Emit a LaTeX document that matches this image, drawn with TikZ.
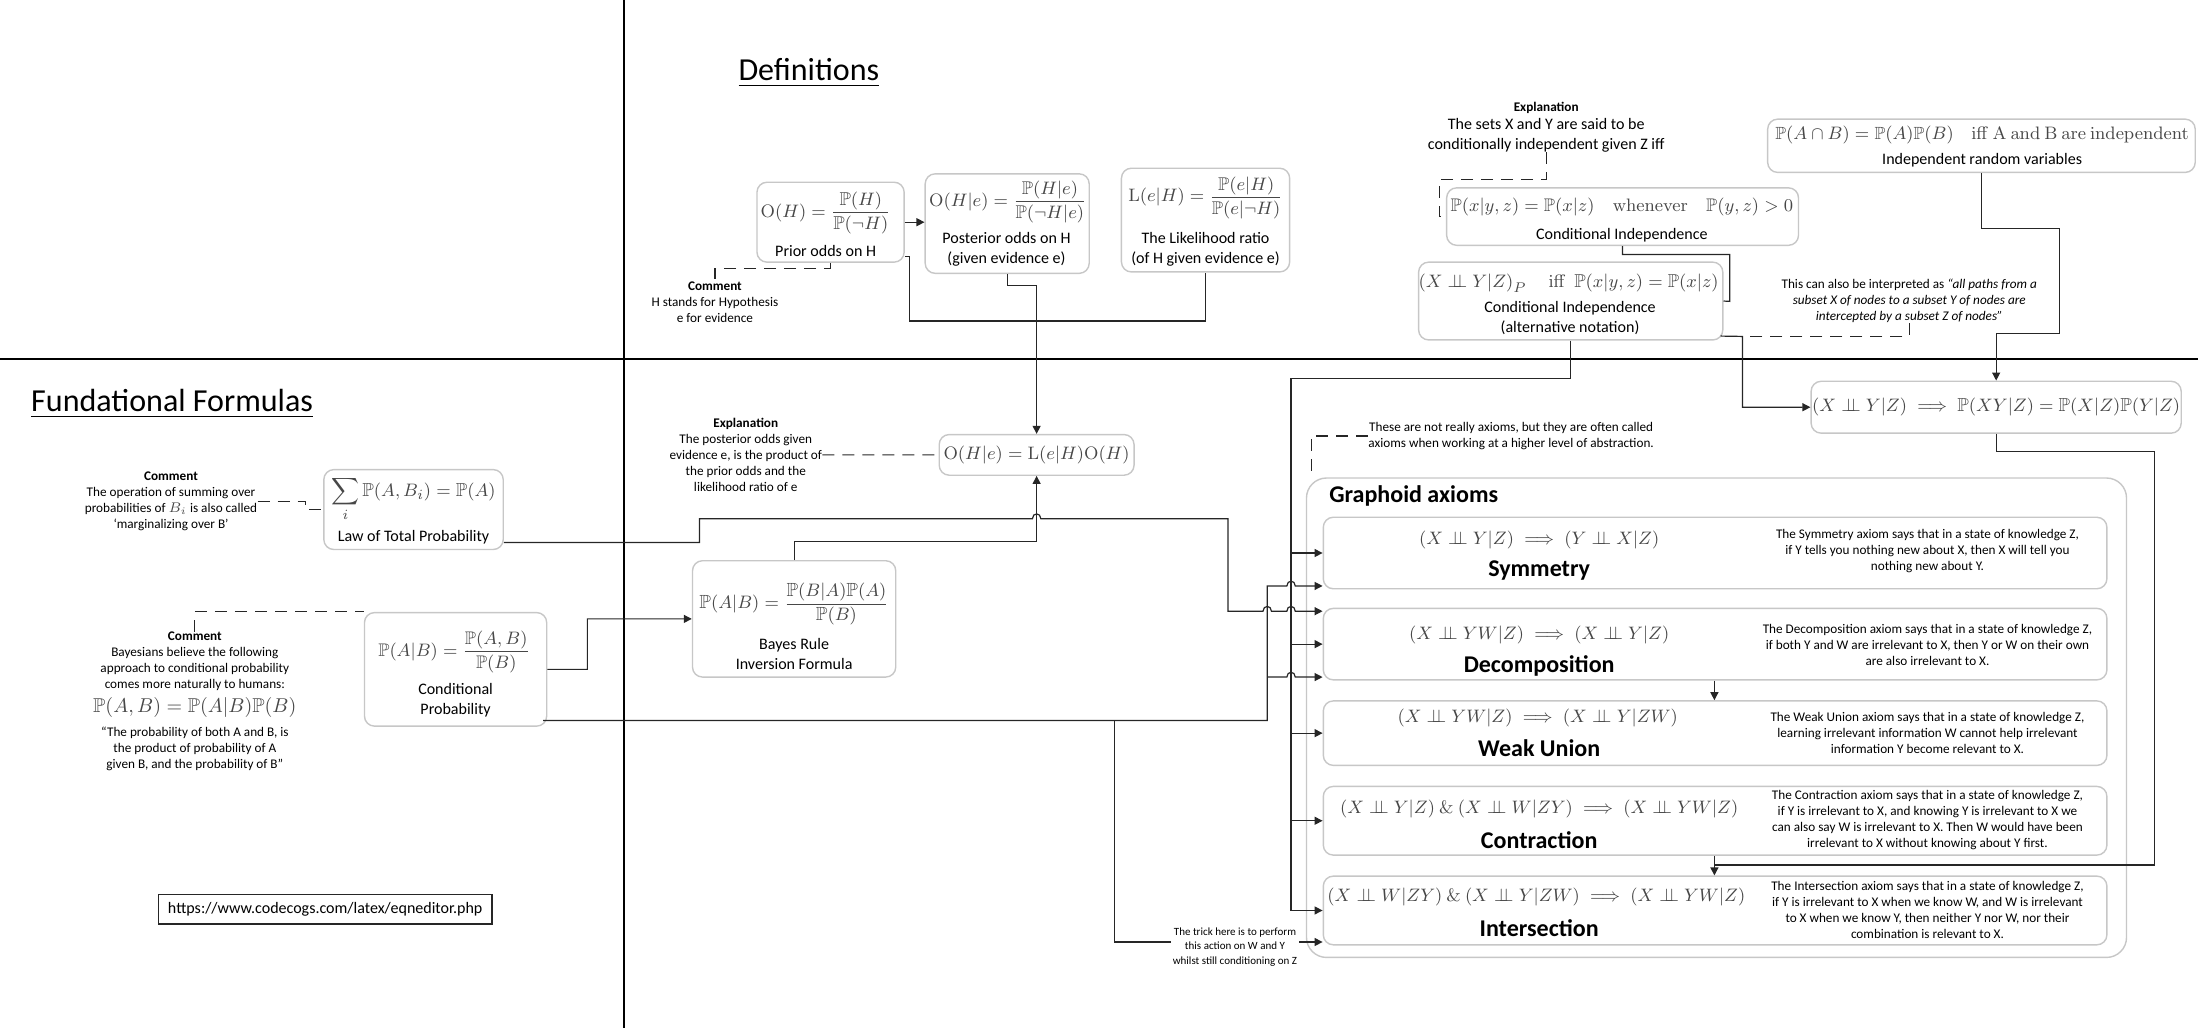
\documentclass[tikz,border=0pt]{standalone}
\usepackage{amsmath,amssymb}
\usepackage[no-math]{fontspec}
\setmainfont{Carlito}
\usetikzlibrary{arrows.meta,fit,calc}
\newcommand{\Pb}{\mathbb{P}}
\newcommand{\cindep}{\mathrel{\perp\!\!\!\perp}}
\newcommand{\hop}[2]{-- ({#1-3},#2) .. controls ({#1-3},{#2-4.5}) and ({#1+3},{#2-4.5}) .. ({#1+3},#2)}
\begin{document}
\begin{tikzpicture}[x=0.7pt,y=-0.7pt,
  bx/.style={draw=black!22, line width=0.7pt, rounded corners=5pt, inner sep=0pt, fill=white},
  gbx/.style={bx, rounded corners=10pt},
  ln/.style={draw=black!85, line width=0.6pt},
  arr/.style={ln, -{Triangle[length=4pt,width=4pt]}},
  dsh/.style={ln, dash pattern=on 6pt off 4pt},
  dvd/.style={draw=black, line width=0.8pt},
  fml/.style={text=black!72, inner sep=0pt, font=\fontsize{#1}{12}\selectfont},
  fml/.default=10,
  lbl/.style={align=center, inner sep=0pt, font=\fontsize{8}{9.7}\selectfont},
  cmt/.style={align=center, inner sep=0pt, font=\fontsize{6.6}{8}\selectfont},
  axn/.style={inner sep=0pt, font=\fontsize{12}{14}\selectfont\bfseries},
  ttl/.style={inner sep=0pt, font=\fontsize{16}{19}\selectfont}]
\useasboundingbox (0,0) rectangle (1568,733);

% dividers
\draw[dvd] (445,0) -- (445,733);
\draw[dvd] (0,256) -- (1568,256);

% titles
\node[ttl] (tdef) at (577,52) {\underline{Definitions}};
\node[ttl, anchor=west] (tfund) at (22,288) {\underline{Fundational Formulas}};

% ---------- Definitions ----------
\node[bx, fit={(540,130) (645,187)}] (prior) {};
\node[fml=9.3] (priorf) at (589,152) {$\mathrm{O}(H) = \dfrac{\Pb(H)}{\Pb(\neg H)}$};
\node[lbl] (priorl) at (589,179) {Prior odds on H};

\node[bx, fit={(660,124) (777,195)}] (post) {};
\node[fml=9.2] (postf) at (719,144) {$\mathrm{O}(H|e) = \dfrac{\Pb(H|e)}{\Pb(\neg H|e)}$};
\node[lbl] (postl) at (718,178) {Posterior odds on H\\(given evidence e)};

\node[bx, fit={(800,120) (920,194)}] (lik) {};
\node[fml=9.2] (likf) at (860,141) {$\mathrm{L}(e|H) = \dfrac{\Pb(e|H)}{\Pb(e|\neg H)}$};
\node[lbl] (likl) at (860,178) {The Likelihood ratio\\(of H given evidence e)};

\node[cmt] (pcm) at (510,215.5) {\textbf{Comment}\\H stands for Hypothesis\\e for evidence};

\node[bx, fit={(670,310) (809,339)}] (ohe) {};
\node[fml=9.3] (ohef) at (739.5,324.5) {$\mathrm{O}(H|e) = \mathrm{L}(e|H)\mathrm{O}(H)$};
\node[cmt] (ohecm) at (532,324.5) {\textbf{Explanation}\\The posterior odds given\\evidence e, is the product of\\the prior odds and the\\likelihood ratio of e};

\node[cmt] (ciexpa) at (1103,77) {\textbf{Explanation}};
\node[align=center, inner sep=0pt, font=\fontsize{8}{10}\selectfont] (ciexpb) at (1103,96.3) {The sets X and Y are said to be\\conditionally independent given Z iff};

\node[bx, fit={(1032,134) (1283,175)}] (pci) {};
\node[fml=9.1] (pcif) at (1157,148) {$\Pb(x|y,z) = \Pb(x|z) \quad \mathrm{whenever} \quad \Pb(y,z) > 0$};
\node[lbl] (pcil) at (1157,168) {Conditional Independence};

\node[bx, fit={(1012,187) (1229,242.5)}] (alt) {};
\node[fml=9.3] (altf) at (1119,202) {$\left(X \cindep Y|Z\right)_P \quad \mathrm{iff}\ \ \Pb(x|y,z) = \Pb(x|z)$};
\node[lbl] (altl) at (1120,227) {Conditional Independence\\(alternative notation)};

\node[bx, fit={(1261,85) (1566,123)}] (ind) {};
\node[fml=8.8] (indf) at (1414,96) {$\Pb(A\cap B) = \Pb(A)\Pb(B) \quad \mathrm{iff\ A\ and\ B\ are\ independent}$};
\node[lbl] (indl) at (1414,114) {Independent random variables};

\node[cmt] (intp) at (1362,214.7) {This can also be interpreted as \textit{“all paths from a}\\\textit{subset X of nodes to a subset Y of nodes are}\\\textit{intercepted by a subset Z of nodes”}};

\node[bx, fit={(1292,272) (1556,309)}] (fact) {};
\node[fml=9.4] (factf) at (1424,290.5) {$(X \cindep Y|Z) \implies \Pb(XY|Z) = \Pb(X|Z)\Pb(Y|Z)$};

% ---------- Graphoid axioms ----------
\node[cmt] (axnote) at (1078,311) {These are not really axioms, but they are often called\\axioms when working at a higher level of abstraction.};
\node[gbx, fit={(932,341) (1517,683)}] (gra) {};
\node[axn, anchor=west] (gtitle) at (948,354) {Graphoid axioms};

\node[bx, fit={(944,369) (1503,420)}] (sym) {};
\node[fml=9.2] (symf) at (1098,385) {$(X \cindep Y|Z) \implies (Y \cindep X|Z)$};
\node[axn] (syml) at (1098,407) {Symmetry};
\node[cmt] (symd) at (1375,393) {The Symmetry axiom says that in a state of knowledge Z,\\if Y tells you nothing new about X, then X will tell you\\nothing new about Y.};

\node[bx, fit={(944,434) (1503,485)}] (dec) {};
\node[fml=9.1] (decf) at (1098,453) {$(X \cindep YW|Z) \implies (X \cindep Y|Z)$};
\node[axn] (decl) at (1098,475) {Decomposition};
\node[cmt] (decd) at (1375,460) {The Decomposition axiom says that in a state of knowledge Z,\\if both Y and W are irrelevant to X, then Y or W on their own\\are also irrelevant to X.};

\node[bx, fit={(944,500) (1503,546)}] (wu) {};
\node[fml=9.2] (wuf) at (1097,512) {$(X \cindep YW|Z) \implies (X \cindep Y|ZW)$};
\node[axn] (wul) at (1098,534) {Weak Union};
\node[cmt] (wud) at (1375,523) {The Weak Union axiom says that in a state of knowledge Z,\\learning irrelevant information W cannot help irrelevant\\information Y become relevant to X.};

\node[bx, fit={(944,561) (1503,610)}] (contr) {};
\node[fml=9.5] (contrf) at (1098,577) {$(X \cindep Y|Z)\ \&\ (X \cindep W|ZY) \implies (X \cindep YW|Z)$};
\node[axn] (contrl) at (1098,599) {Contraction};
\node[cmt] (contrd) at (1375,585) {The Contraction axiom says that in a state of knowledge Z,\\if Y is irrelevant to X, and knowing Y is irrelevant to X we\\can also say W is irrelevant to X. Then W would have been\\irrelevant to X without knowing about Y first.};

\node[bx, fit={(944,625) (1503,674)}] (inter) {};
\node[fml=9.1] (interf) at (1096,640) {$(X \cindep W|ZY)\ \&\ (X \cindep Y|ZW) \implies (X \cindep YW|Z)$};
\node[axn] (interl) at (1098,662) {Intersection};
\node[cmt] (interd) at (1375,649) {The Intersection axiom says that in a state of knowledge Z,\\if Y is irrelevant to X when we know W, and W is irrelevant\\to X when we know Y, then neither Y nor W, nor their\\combination is relevant to X.};

% ---------- Fundational formulas ----------
\node[bx, fit={(231,335) (359,392)}] (ltp) {};
\node[fml=9.4] (ltpf) at (295,356) {$\displaystyle\sum_i \Pb(A,B_i) = \Pb(A)$};
\node[lbl] (ltpl) at (295,383) {Law of Total Probability};
\node[cmt] (ltpcm) at (122,357.5) {\textbf{Comment}\\The operation of summing over\\probabilities of \textcolor{black!72}{$B_i$} is also called\\‘marginalizing over B’};

\node[bx, fit={(260,437) (390,518)}] (cp) {};
\node[fml=9.1] (cpf) at (324,465) {$\Pb(A|B) = \dfrac{\Pb(A,B)}{\Pb(B)}$};
\node[lbl] (cpl) at (325,499.5) {Conditional\\Probability};

\node[bx, fit={(494,400) (639,483)}] (bayes) {};
\node[fml=9.5] (bayesf) at (566.5,431) {$\Pb(A|B) = \dfrac{\Pb(B|A)\Pb(A)}{\Pb(B)}$};
\node[lbl] (bayesl) at (566.5,466.5) {Bayes Rule\\Inversion Formula};

\node[cmt] (bycm) at (139,472) {\textbf{Comment}\\Bayesians believe the following\\approach to conditional probability\\comes more naturally to humans:};
\node[fml] (byf) at (139,505) {$\Pb(A,B) = \Pb(A|B)\Pb(B)$};
\node[cmt] (byq) at (139,534.5) {“The probability of both A and B, is\\the product of probability of A\\given B, and the probability of B”};

\node[draw=black!85, line width=0.8pt, minimum width=238*0.7pt, minimum height=21*0.7pt, inner sep=0pt, font=\fontsize{8}{10}\selectfont] (url) at (232,648.5) {https://www.codecogs.com/latex/eqneditor.php};

% ---------- coordinates ----------
\coordinate (xa) at (921,0);
\coordinate (xm) at (1223,0);
\coordinate (y418) at (0,418);
\coordinate (y436) at (0,436);
\coordinate (y483) at (0,483);
\coordinate (y672) at (0,672);
\coordinate (ja) at (921,270);
\coordinate (jb) at (904,483);
\coordinate (jc) at (795,514);
\coordinate (j1) at (1243,240);
\coordinate (j2) at (1223,617);

% ---------- connectors ----------
\draw[arr] (prior.east) -- (prior.east -| post.west);
\draw[ln] (prior.east) ++(0,24.5) -| (649,229) -| (lik.south);
\draw[arr] (post.south) -- ++(0,8) -| (ohe.north);
\draw[arr] (bayes.north) -- ++(0,-13) -| (ohe.south);
\draw[arr] (cp.east) -- (419,477.5) |- (bayes.west);
\draw[arr] (ltp.east) ++(0,23.5) -- (499,387) -- (499,370) \hop{739.5}{370} -- (876,370) -- (876,436) \hop{904}{436} \hop{921}{436} -- (dec.west |- y436);

\draw[ln] (pci.south) -- ++(0,6) -| (1234,215) -- (alt.east);
\draw[arr] (ind.south) |- (1469,163) |- (1424,238) -- (fact.north);
\draw[arr] (alt.east) ++(-2,25) -- (j1) |- (fact.west);

\draw[arr] (alt.south) |- (ja) |- (inter.west);
\foreach \n in {sym,dec,wu,contr} \draw[arr] (xa |- \n.west) -- (\n.west);

\draw[arr] (cp.east) ++(-3,36.5) -- (904,514) -- (904,418) \hop{921}{418} -- (sym.west |- y418);
\draw[arr] (jb) \hop{921}{483} -- (dec.west |- y483);
\draw[arr] (jc) -- (795,672) -- (inter.west |- y672);

\draw[ln] (fact.south) |- (1537,322) |- (j2);
\draw[arr] (contr.south -| xm) -- (inter.north -| xm);
\draw[arr] (dec.south -| xm) -- (wu.north -| xm);

% dashed comment connectors
\draw[dsh] (prior.south) -- ++(0,4) -| (pcm.north);
\draw[dsh] (ohecm.east) -- (ohe.west);
\draw[dsh] (ciexpb.south) |- (1027,128) |- (pci.west);
\draw[dsh] (intp.south) |- (j1);
\draw[dsh] (ltpcm.east) -- (218,357.5) |- (ltp.west);
\draw[dsh] (bycm.north) |- (cp.north west);
\draw[dsh] (axnote.west) -| ($(gra.north west)+(4,0)$);

\node[cmt, font=\fontsize{5.5}{7.3}\selectfont, fill=white, inner sep=1pt] (trick) at (881,675.5) {The trick here is to perform\\this action on W and Y\\whilst still conditioning on Z};
\end{tikzpicture}
\end{document}
